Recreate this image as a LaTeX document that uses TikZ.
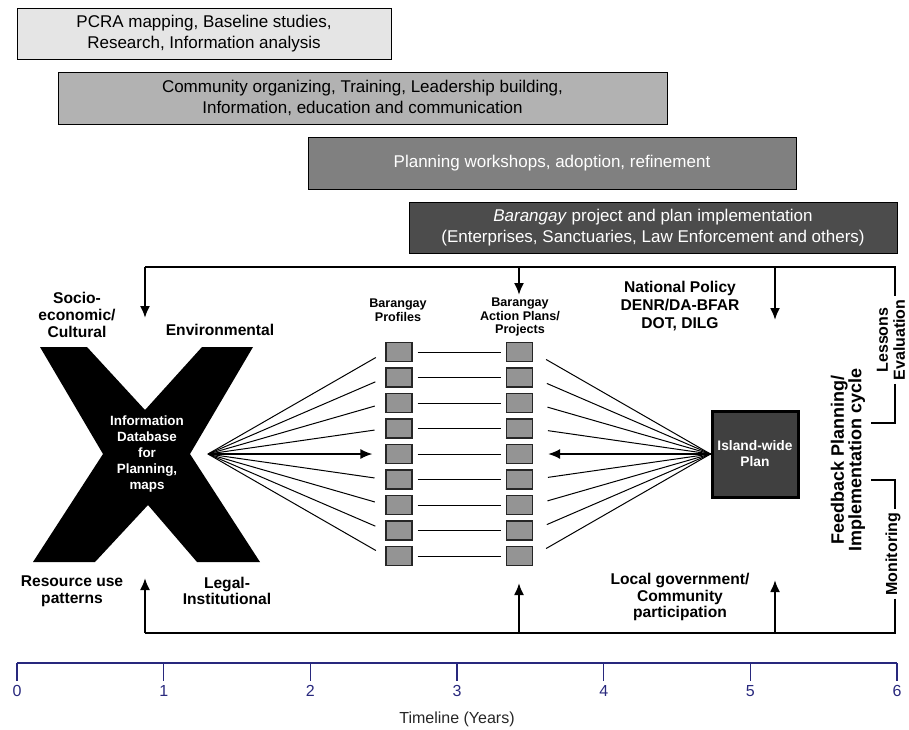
\documentclass[tikz,border=0pt]{standalone}
\usepackage{fontspec}
\setmainfont{Liberation Sans}
\usetikzlibrary{arrows.meta}

\definecolor{axisblue}{RGB}{40,40,125}

\tikzset{
    phase/.style={draw, line width=0.5pt, inner sep=0pt, align=center,
        font=\fontsize{8.5}{10.5}\selectfont},
    lbl/.style={align=center, font=\bfseries\fontsize{7.8}{8.3}\selectfont},
    smalllbl/.style={align=center, font=\bfseries\fontsize{6.3}{6.8}\selectfont},
    sidelbl/.style={align=center, rotate=90, inner sep=1.5pt,
        font=\bfseries\fontsize{8}{8.5}\selectfont},
    brgy/.style={draw=black!85, fill=black!42, line width=0.6pt,
        minimum width=13pt, minimum height=9.5pt, inner sep=0pt},
    fan/.style={draw, line width=0.5pt},
    fb/.style={draw, line width=1pt, -{Latex[length=6pt,width=5pt]}},
    fbline/.style={draw, line width=1pt},
    yearlbl/.style={text=axisblue, font=\fontsize{8}{9}\selectfont}
}

\begin{document}
\begin{tikzpicture}[x=0.5pt, y=-0.5pt]
        \useasboundingbox (0,0) rectangle (909,729);

        % phases
        \node[phase, fill=black!10, minimum width=187pt, minimum height=25.5pt] (pcra) at (204,33.5)
            {PCRA mapping, Baseline studies,\\Research, Information analysis};
        \node[phase, fill=black!30, minimum width=304.5pt, minimum height=26pt] (co) at (362.5,98)
            {Community organizing, Training, Leadership building,\\Information, education and communication};
        \node[phase, fill=black!50, text=white, minimum width=244pt, minimum height=26pt] (plan) at (552,163)
            {Planning workshops, adoption, refinement};
        \node[phase, fill=black!70, text=white, minimum width=244pt, minimum height=25.5pt] (impl) at (653,227.5)
            {\textit{Barangay} project and plan implementation\\(Enterprises, Sanctuaries, Law Enforcement and others)};

        % the X
        \fill[black] (40,347) -- (87,347) -- (145,410) -- (202,347) -- (253,347) -- (190,454)
            -- (260,562) -- (197,562) -- (148,505) -- (95,562) -- (33,562) -- (103,454) -- cycle;
        \node[smalllbl, text=white, font=\bfseries\fontsize{6.7}{8}\selectfont] (db) at (147,454)
            {Information\\Database\\for\\Planning,\\maps};
        \coordinate (fanL) at (208,454);

        \node[lbl] (socio) at (77,315) {Socio-\\economic/\\Cultural};
        \node[lbl] (env) at (220,330) {Environmental};
        \node[lbl] (res) at (72,591) {Resource use\\patterns};
        \node[lbl] (legal) at (227,591) {Legal-\\Institutional};

        % barangay profiles and action plans
        \node[smalllbl] (proflbl) at (398,310) {Barangay\\Profiles};
        \node[smalllbl] (actlbl) at (520,317) {Barangay\\Action Plans/\\Projects};

        \node[brgy] (p1) at (399,352) {};
        \node[brgy] (p2) at (399,377.5) {};
        \node[brgy] (p3) at (399,403) {};
        \node[brgy] (p4) at (399,428.5) {};
        \node[brgy] (p5) at (399,454) {};
        \node[brgy] (p6) at (399,479.5) {};
        \node[brgy] (p7) at (399,505) {};
        \node[brgy] (p8) at (399,530.5) {};
        \node[brgy] (p9) at (399,556) {};

        \node[brgy] (a1) at (519.5,352) {};
        \node[brgy] (a2) at (519.5,377.5) {};
        \node[brgy] (a3) at (519.5,403) {};
        \node[brgy] (a4) at (519.5,428.5) {};
        \node[brgy] (a5) at (519.5,454) {};
        \node[brgy] (a6) at (519.5,479.5) {};
        \node[brgy] (a7) at (519.5,505) {};
        \node[brgy] (a8) at (519.5,530.5) {};
        \node[brgy] (a9) at (519.5,556) {};

        % island-wide plan
        \node[draw, line width=1.5pt, fill=black!75, text=white, minimum size=43pt, inner sep=0pt,
            align=center, font=\bfseries\fontsize{6.9}{8}\selectfont] (island) at (755,454) {Island-wide\\Plan};

        % fan from the database
        \path[fan, shorten >=5.5pt] (fanL) -- (p1.west);
        \path[fan, shorten >=5.5pt] (fanL) -- (p2.west);
        \path[fan, shorten >=5.5pt] (fanL) -- (p3.west);
        \path[fan, shorten >=5.5pt] (fanL) -- (p4.west);
        \path[fan, shorten >=6.5pt, line width=0.8pt, -{Latex[length=6pt,width=5pt]}] (fanL) -- (p5.west);
        \path[fan, shorten >=5.5pt] (fanL) -- (p6.west);
        \path[fan, shorten >=5.5pt] (fanL) -- (p7.west);
        \path[fan, shorten >=5.5pt] (fanL) -- (p8.west);
        \path[fan, shorten >=5.5pt] (fanL) -- (p9.west);

        % profiles to action plans
        \path[fan, shorten <=2.5pt, shorten >=2.5pt] (p1) -- (a1);
        \path[fan, shorten <=2.5pt, shorten >=2.5pt] (p2) -- (a2);
        \path[fan, shorten <=2.5pt, shorten >=2.5pt] (p3) -- (a3);
        \path[fan, shorten <=2.5pt, shorten >=2.5pt] (p4) -- (a4);
        \path[fan, shorten <=2.5pt, shorten >=2.5pt] (p5) -- (a5);
        \path[fan, shorten <=2.5pt, shorten >=2.5pt] (p6) -- (a6);
        \path[fan, shorten <=2.5pt, shorten >=2.5pt] (p7) -- (a7);
        \path[fan, shorten <=2.5pt, shorten >=2.5pt] (p8) -- (a8);
        \path[fan, shorten <=2.5pt, shorten >=2.5pt] (p9) -- (a9);

        % fan from the island-wide plan
        \path[fan, shorten >=7.5pt] (island.west) -- (a1.east);
        \path[fan, shorten >=7.5pt] (island.west) -- (a2.east);
        \path[fan, shorten >=7.5pt] (island.west) -- (a3.east);
        \path[fan, shorten >=7.5pt] (island.west) -- (a4.east);
        \path[fan, shorten >=7.5pt, line width=0.8pt, -{Latex[length=6pt,width=5pt]}] (island.west) -- (a5.east);
        \path[fan, shorten >=7.5pt] (island.west) -- (a6.east);
        \path[fan, shorten >=7.5pt] (island.west) -- (a7.east);
        \path[fan, shorten >=7.5pt] (island.west) -- (a8.east);
        \path[fan, shorten >=7.5pt] (island.west) -- (a9.east);

        % policy and participation
        \node[lbl, font=\bfseries\fontsize{7.8}{9}\selectfont] (policy) at (680,306)
            {National Policy\\DENR/DA-BFAR\\DOT, DILG};
        \node[lbl] (local) at (680,597) {Local government/\\Community\\participation};

        % feedback loop
        \node[sidelbl, font=\bfseries\fontsize{9}{8.8}\selectfont] (feedback) at (848,460)
            {Feedback Planning/\\Implementation cycle};
        \node[sidelbl] (lessons) at (891,340) {Lessons\\Evaluation};
        \node[sidelbl] (monitor) at (893,554) {Monitoring};

        \coordinate (tl) at (145,267);
        \coordinate (tm) at (519,267);
        \coordinate (tr) at (895,267);
        \coordinate (trm) at (775,267);
        \coordinate (bl) at (145,633);
        \coordinate (bm) at (519,633);
        \coordinate (brm) at (775,633);
        \coordinate (br) at (895,633);
        \coordinate (fbtop) at (871,423);
        \coordinate (fbbot) at (871,480);

        \path[fbline] (tl) -- (tr) -- (tr |- lessons.east);
        \path[fbline] (tr |- lessons.west) -- (tr |- fbtop) -- (fbtop);
        \path[fbline] (fbbot) -- (tr |- fbbot) -- (tr |- monitor.east);
        \path[fbline] (br |- monitor.west) -- (br) -- (bl);

        \path[fb] (tl) -- (145,318);
        \path[fb] (tm) -- (519,295);
        \path[fb] (trm) -- (775,320);
        \path[fb] (bl) -- (145,578);
        \path[fb] (bm) -- (519,583);
        \path[fb] (brm) -- (775,580);

        % timeline
        \draw[axisblue, line width=0.6pt] (17,663) -- (897,663);
        \draw[axisblue, line width=0.6pt] (17,663) -- (17,681);
        \draw[axisblue, line width=0.6pt] (163.7,663) -- (163.7,681);
        \draw[axisblue, line width=0.6pt] (310.3,663) -- (310.3,681);
        \draw[axisblue, line width=0.6pt] (457,663) -- (457,681);
        \draw[axisblue, line width=0.6pt] (603.7,663) -- (603.7,681);
        \draw[axisblue, line width=0.6pt] (750.3,663) -- (750.3,681);
        \draw[axisblue, line width=0.6pt] (897,663) -- (897,681);

        \node[yearlbl] (y0) at (17,691) {0};
        \node[yearlbl] (y1) at (163.7,691) {1};
        \node[yearlbl] (y2) at (310.3,691) {2};
        \node[yearlbl] (y3) at (457,691) {3};
        \node[yearlbl] (y4) at (603.7,691) {4};
        \node[yearlbl] (y5) at (750.3,691) {5};
        \node[yearlbl] (y6) at (897,691) {6};
        \node[font=\fontsize{8}{9}\selectfont, text=black!85] (years) at (457,719) {Timeline (Years)};
\end{tikzpicture}
\end{document}
